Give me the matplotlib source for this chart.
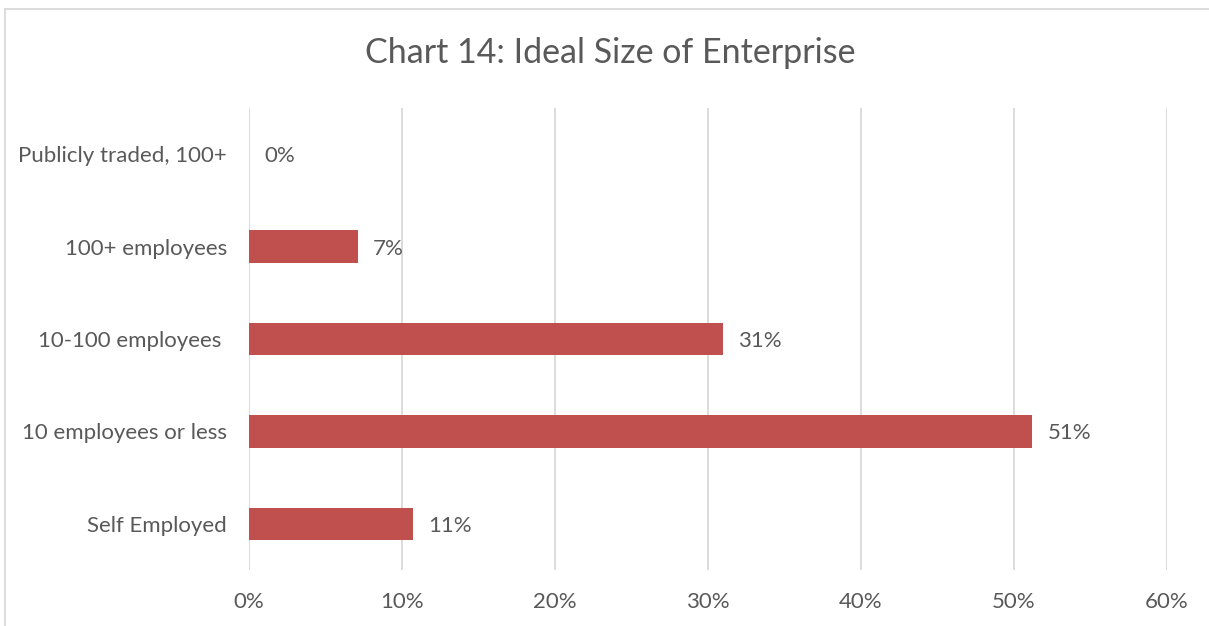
import matplotlib.pyplot as plt
from matplotlib.patches import Rectangle

# data (bottom to top)
categories = ['Self Employed', '10 employees or less', '10-100 employees ',
              '100+ employees', 'Publicly traded, 100+']
values = [10.7, 51.2, 31.0, 7.1, 0.0]
labels = ['11%', '51%', '31%', '7%', '0%']
ticks = [0, 10, 20, 30, 40, 50, 60]
tick_labels = ['0%', '10%', '20%', '30%', '40%', '50%', '60%']

text_color = '#595959'
grid_color = '#D9D9D9'
bar_color = '#C0504D'

plt.rcParams['font.family'] = ['Lato', 'DejaVu Sans']

fig = plt.figure(figsize=(12.09, 6.26), dpi=100)
ax = fig.add_axes([0.206, 0.0895, 0.759, 0.738])

ypos = list(range(len(categories)))
ax.barh(ypos, values, height=0.35, color=bar_color, zorder=3)

for y, v, lab in zip(ypos, values, labels):
    ax.annotate(lab, (v, y), xytext=(11, -1.5), textcoords='offset points',
                va='center', ha='left', fontsize=16, color=text_color)

ax.set_xlim(0, 60)
ax.set_ylim(-0.5, len(categories) - 0.5)
ax.set_xticks(ticks)
ax.set_xticklabels(tick_labels)
ax.set_yticks(ypos)
ax.set_yticklabels(categories)
ax.tick_params(axis='both', length=0, labelsize=16, labelcolor=text_color)
ax.tick_params(axis='x', pad=16)
ax.tick_params(axis='y', pad=16)
ax.xaxis.grid(True, color=grid_color, linewidth=1.3, zorder=0)
for s in ax.spines.values():
    s.set_visible(False)

fig.text(0.505, 0.915, 'Chart 14: Ideal Size of Enterprise', ha='center',
         va='center', fontsize=24.5, color=text_color)

# outer chart frame (runs off the right and bottom of the picture)
fig.patches.append(Rectangle((4.5 / 1209, -0.05), 1.1, 1 - 9.5 / 626 + 0.05,
                             transform=fig.transFigure, fill=False,
                             edgecolor=grid_color, linewidth=1.3))

fig.savefig('out.png', dpi=100)
